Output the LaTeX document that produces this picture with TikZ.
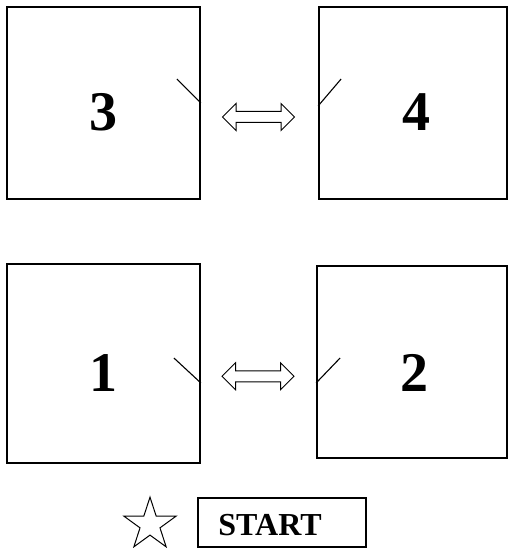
\documentclass[tikz,border=0pt]{standalone}
\usepackage{fontspec}
\setmainfont{Liberation Serif}
\usetikzlibrary{shapes.geometric,shapes.arrows,calc}
\begin{document}
\begin{tikzpicture}[x=1pt,y=-1pt,
  room/.style={draw,line width=1.8pt,inner sep=0pt},
  num/.style={font=\fontsize{56}{60}\selectfont\bfseries},
  door/.style={line width=1.1pt},
  pass/.style={draw,line width=1pt,double arrow,double arrow head extend=8pt,
    minimum width=26pt,minimum height=72pt,inner xsep=0pt,inner ysep=5pt}]
  \useasboundingbox (0,0) rectangle (508,548);
  % rooms
  \node[room,minimum width=193pt,minimum height=192pt](R3) at (103.5,103) {};
  \node[room,minimum width=188pt,minimum height=192pt](R4) at (413,103) {};
  \node[room,minimum width=193pt,minimum height=199pt](R1) at (103.5,363.5) {};
  \node[room,minimum width=190pt,minimum height=192pt](R2) at (412,362) {};
  \node[num](N3) at (103,112) {3};
  \node[num](N4) at (416,112) {4};
  \node[num](N1) at (103,373) {1};
  \node[num](N2) at (414,373) {2};
  % doors
  \draw[door] (R3.east) -- ++(-24,-24);
  \draw[door] ($(R4.west)+(0,3)$) -- ++(23,-27);
  \draw[door] ($(R1.east)+(0,19.5)$) -- ++(-27,-25);
  \draw[door] ($(R2.west)+(0,21)$) -- ++(24,-25);
  % passages
  \node[pass](A34) at ($(R3.east)!0.5!(R4.west)+(-1,14)$) {};
  \node[pass](A12) at ($(R1.east)!0.5!(R2.west)+(-0.5,13.5)$) {};
  % start
  \node[draw,line width=1pt,star,star points=5,star point ratio=2.618,
    minimum size=55pt,inner sep=0pt](S) at (150,524.6) {};
  \node[draw,line width=1.4pt,minimum width=168pt,minimum height=49pt,
    inner sep=0pt](G) at (282,522.5) {};
  \node[font=\fontsize{32}{36}\selectfont\bfseries](T) at ($(G.center)+(-12,2.5)$) {START};
\end{tikzpicture}
\end{document}
